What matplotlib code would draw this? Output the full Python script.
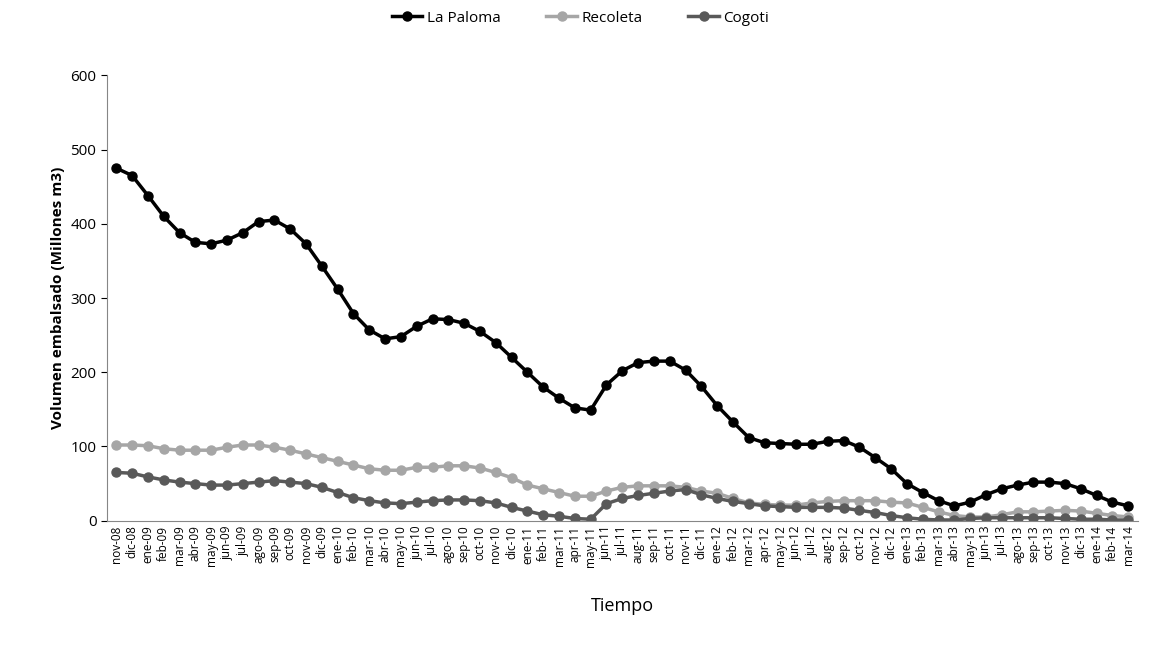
import matplotlib
matplotlib.use("Agg")
import matplotlib.pyplot as plt

months = ["nov-08", "dic-08", "ene-09", "feb-09", "mar-09", "abr-09", "may-09", "jun-09", "jul-09", "ago-09",
          "sep-09", "oct-09", "nov-09", "dic-09", "ene-10", "feb-10", "mar-10", "abr-10", "may-10", "jun-10",
          "jul-10", "ago-10", "sep-10", "oct-10", "nov-10", "dic-10", "ene-11", "feb-11", "mar-11", "apr-11",
          "may-11", "jun-11", "jul-11", "aug-11", "sep-11", "oct-11", "nov-11", "dic-11", "ene-12", "feb-12",
          "mar-12", "apr-12", "may-12", "jun-12", "jul-12", "aug-12", "sep-12", "oct-12", "nov-12", "dic-12",
          "ene-13", "feb-13", "mar-13", "abr-13", "may-13", "jun-13", "jul-13", "ago-13", "sep-13", "oct-13",
          "nov-13", "dic-13", "ene-14", "feb-14", "mar-14"]

la_paloma = [475, 465, 438, 410, 388, 375, 373, 378, 388, 403, 405, 393, 373, 343, 312, 279, 257, 245, 248, 262,
             272, 271, 266, 255, 240, 220, 200, 180, 165, 152, 149, 183, 202, 213, 215, 215, 203, 181, 155, 133,
             112, 105, 104, 103, 103, 107, 108, 99, 85, 70, 50, 38, 27, 20, 25, 35, 43, 48, 52, 52,
             50, 43, 34, 25, 20]
recoleta = [102, 102, 101, 97, 95, 95, 95, 99, 102, 102, 99, 95, 90, 85, 80, 75, 70, 68, 68, 72,
            72, 74, 74, 71, 65, 58, 48, 43, 38, 33, 33, 40, 45, 47, 47, 47, 45, 40, 37, 30,
            24, 22, 21, 21, 24, 26, 27, 27, 27, 25, 24, 18, 12, 7, 5, 5, 8, 12, 12, 13,
            14, 13, 10, 7, 5]
cogoti = [65, 64, 59, 55, 52, 50, 48, 48, 50, 52, 54, 52, 50, 45, 38, 31, 27, 24, 23, 25,
          27, 28, 28, 27, 24, 18, 13, 8, 6, 3, 2, 23, 30, 34, 37, 40, 42, 35, 30, 26,
          23, 20, 19, 18, 18, 18, 17, 14, 11, 7, 4, 2, 1, 1, 3, 4, 4, 4, 4, 4,
          3, 2, 2, 1, 1]

plt.rcParams['font.family'] = ['Open Sans', 'DejaVu Sans']

fig = plt.figure(figsize=(11.61, 6.55), dpi=100)
ax = fig.add_axes([0.092, 0.205, 0.888, 0.68])

x = range(len(months))
ax.plot(x, la_paloma, "-o", color="black", lw=2.5, ms=6.5, label="La Paloma")
ax.plot(x, recoleta, "-o", color="#a6a6a6", lw=2.5, ms=6.5, label="Recoleta")
ax.plot(x, cogoti, "-o", color="#595959", lw=2.5, ms=6.5, label="Cogoti")

ax.set_xlim(-0.6, len(months) - 0.4)
ax.set_ylim(0, 600)
ax.set_yticks(range(0, 601, 100))
ax.set_xticks(list(x))
ax.set_xticklabels(months, rotation=90, fontsize=8.5)
ax.tick_params(axis='y', labelsize=11, length=4)
ax.tick_params(axis='x', length=0)
for s in ["top", "right"]:
    ax.spines[s].set_visible(False)
ax.spines["left"].set_color("#868686")
ax.spines["bottom"].set_color("#868686")

ax.set_ylabel("Volumen embalsado (Millones m3)", fontsize=11, fontweight="bold")
ax.set_xlabel("Tiempo", fontsize=13, labelpad=22)

fig.legend(loc="center", bbox_to_anchor=(0.5, 0.972), ncol=3, frameon=False, fontsize=11,
           handlelength=2.0, handletextpad=0.3, columnspacing=3.0)

fig.savefig("out.png")
